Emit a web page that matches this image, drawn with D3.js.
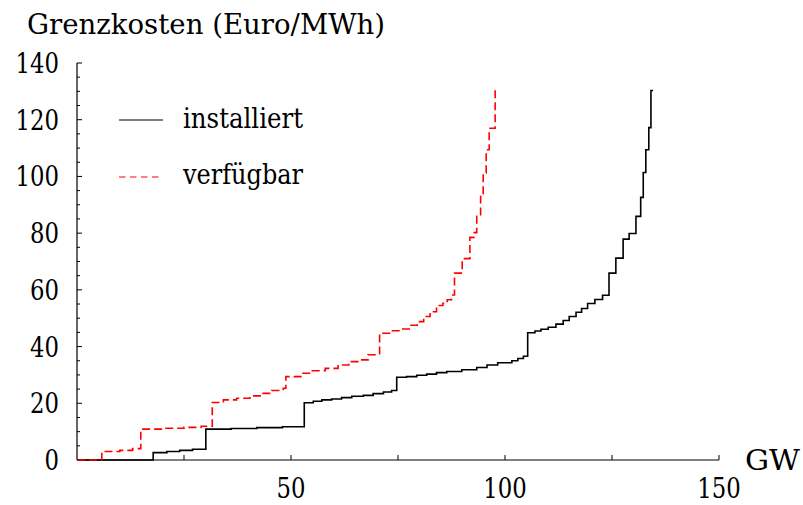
<!DOCTYPE html>
<html>
<head>
<meta charset="utf-8">
<script src="https://cdn.jsdelivr.net/npm/d3@7"></script>
<style>
  html, body { margin: 0; padding: 0; background: #fff; }
  svg { display: block; }
</style>
</head>
<body>
<svg id="chart" width="803" height="505"></svg>
<script>
// ---- data ----
const xTicksMajor = [50, 100, 150];
const xTicksAll = [25, 50, 75, 100, 125, 150];
const yTicksMajor = [0, 20, 40, 60, 80, 100, 120, 140];
const seriesNames = ["installiert", "verfügbar"];

// installiert: step start capacity (GW) and marginal cost (Euro/MWh)
const instGW = [0, 17.8, 21, 24, 27, 30.1, 36, 42, 48, 53.1, 55.2, 57.2, 59.5, 61.8, 64.2, 66.9, 69.2, 71.6, 73.5,
  74.7, 77.0, 79.4, 81.7, 84.0, 86.4, 89.9, 93.4, 95.8, 98.3, 101.6, 103.0, 104.3,
  105.3, 107.0, 108.4, 110.1, 111.9, 113.6, 115.0, 116.6, 117.9, 119.3, 121.0, 122.8, 124.3, 125.9, 127.6,
  129.0, 130.6, 131.7, 132.3, 132.9, 133.6, 134.1, 134.6];
const instCost = [0, 2.6, 3.0, 3.4, 3.8, 10.9, 11.1, 11.4, 11.7, 20.2, 20.7, 21.2, 21.5, 22.0, 22.5, 22.8, 23.4, 24.0, 24.5,
  29.2, 29.4, 29.9, 30.3, 30.8, 31.2, 31.8, 32.6, 33.5, 34.3, 35.0, 35.8, 36.6,
  44.9, 45.5, 46.1, 46.8, 47.9, 49.2, 50.6, 52.1, 53.4, 55.2, 56.6, 58.1, 65.9, 71.2, 77.9,
  79.9, 85.9, 92.6, 101.4, 109.4, 117.2, 130.3, 130.3];

// verfügbar
const verfGW = [0, 5.8, 10, 13, 14.9, 20, 25, 29, 31.6, 34.2, 37.3, 40.4, 43.2, 45.5, 48.2,
  48.8, 52.5, 55, 58, 61, 63.5, 66, 68, 70.7, 73.5, 75.5, 78, 79.5, 81, 82.5, 84, 85.5, 86.5, 87.5,
  88.2, 90.0, 91.8, 92.8, 93.4, 94.3, 94.9, 95.6, 96.3, 97.7, 98.5];
const verfCost = [0, 3.0, 3.4, 4.0, 10.9, 11.2, 11.5, 11.9, 20.3, 21.2, 21.8, 22.6, 23.5, 24.5, 25.3,
  29.4, 30.6, 31.5, 32.3, 33.5, 34.7, 35.3, 37.1, 44.7, 45.6, 46.2, 47.5, 48.8, 50.6, 52.3, 54.5, 55.3, 56.5, 58.2,
  65.9, 71.0, 78.5, 80.2, 85.9, 92.9, 101.2, 109.4, 117.0, 130.6, 130.6];

// ---- chart ----
const FONT = "DejaVu Serif, serif";
const svg = d3.select("#chart").style("font-family", FONT);
const x = d3.scaleLinear().domain([0, 150]).range([77, 719]);
const y = d3.scaleLinear().domain([0, 140]).range([460, 63]);

const FS = 27;

function txt(sel) {
  return sel.style("font-family", FONT).style("font-weight", "300").attr("fill", "#000");
}

// axes lines
svg.append("line").attr("x1", x(0)).attr("x2", x(150)).attr("y1", y(0)).attr("y2", y(0))
  .attr("stroke", "#000").attr("stroke-width", 1.2);
svg.append("line").attr("x1", x(0)).attr("x2", x(0)).attr("y1", y(0)).attr("y2", y(140))
  .attr("stroke", "#000").attr("stroke-width", 1.2);

// x ticks (inward)
svg.append("g").selectAll("line").data(xTicksAll).join("line")
  .attr("x1", d => x(d)).attr("x2", d => x(d))
  .attr("y1", y(0)).attr("y2", y(0) - 5)
  .attr("stroke", "#000").attr("stroke-width", 1);
txt(svg.append("g").selectAll("text").data(xTicksMajor).join("text"))
  .attr("x", d => x(d)).attr("y", 498)
  .attr("text-anchor", "middle").attr("font-size", FS)
  .attr("textLength", d => String(d).length * 14.5).attr("lengthAdjust", "spacingAndGlyphs")
  .text(d => d);

// y ticks (inward)
const yMinor = d3.range(0, 141, 5);
svg.append("g").selectAll("line").data(yMinor).join("line")
  .attr("x1", x(0)).attr("x2", d => x(0) + (d % 20 === 0 ? 5 : 3))
  .attr("y1", d => y(d)).attr("y2", d => y(d))
  .attr("stroke", "#000").attr("stroke-width", 1);
txt(svg.append("g").selectAll("text").data(yTicksMajor).join("text"))
  .attr("x", 59).attr("y", d => y(d) + 10)
  .attr("text-anchor", "end").attr("font-size", FS)
  .attr("textLength", d => String(d).length * 14.5).attr("lengthAdjust", "spacingAndGlyphs")
  .text(d => d);

// axis titles
txt(svg.append("text")).attr("x", 27).attr("y", 34).attr("font-size", FS)
  .attr("textLength", 358).attr("lengthAdjust", "spacingAndGlyphs")
  .text("Grenzkosten (Euro/MWh)");
txt(svg.append("text")).attr("x", 745).attr("y", 470).attr("font-size", FS)
  .attr("textLength", 55).attr("lengthAdjust", "spacingAndGlyphs")
  .text("GW");

// lines
const line = d3.line().x(d => x(d[0])).y(d => y(d[1])).curve(d3.curveStepAfter);
const inst = instGW.map((g, i) => [g, instCost[i]]);
const verf = verfGW.map((g, i) => [g, verfCost[i]]);

svg.append("path").datum(inst).attr("d", line)
  .attr("fill", "none").attr("stroke", "#000").attr("stroke-width", 1.6);
svg.append("path").datum(verf).attr("d", line)
  .attr("fill", "none").attr("stroke", "#ff0000").attr("stroke-width", 1.6)
  .attr("stroke-dasharray", "8,4");

// legend
const legend = [
  {name: seriesNames[0], color: "#000", dash: null, ly: 120, ty: 128},
  {name: seriesNames[1], color: "#ff0000", dash: "6.5,4.5", ly: 177, ty: 184}
];
legend.forEach(l => {
  svg.append("line").attr("x1", 119).attr("x2", 163).attr("y1", l.ly).attr("y2", l.ly)
    .attr("stroke", l.color).attr("stroke-width", 1.1)
    .attr("stroke-dasharray", l.dash);
  txt(svg.append("text")).attr("x", 183).attr("y", l.ty).attr("font-size", FS)
    .attr("textLength", 120).attr("lengthAdjust", "spacingAndGlyphs")
    .text(l.name);
});
</script>
</body>
</html>
